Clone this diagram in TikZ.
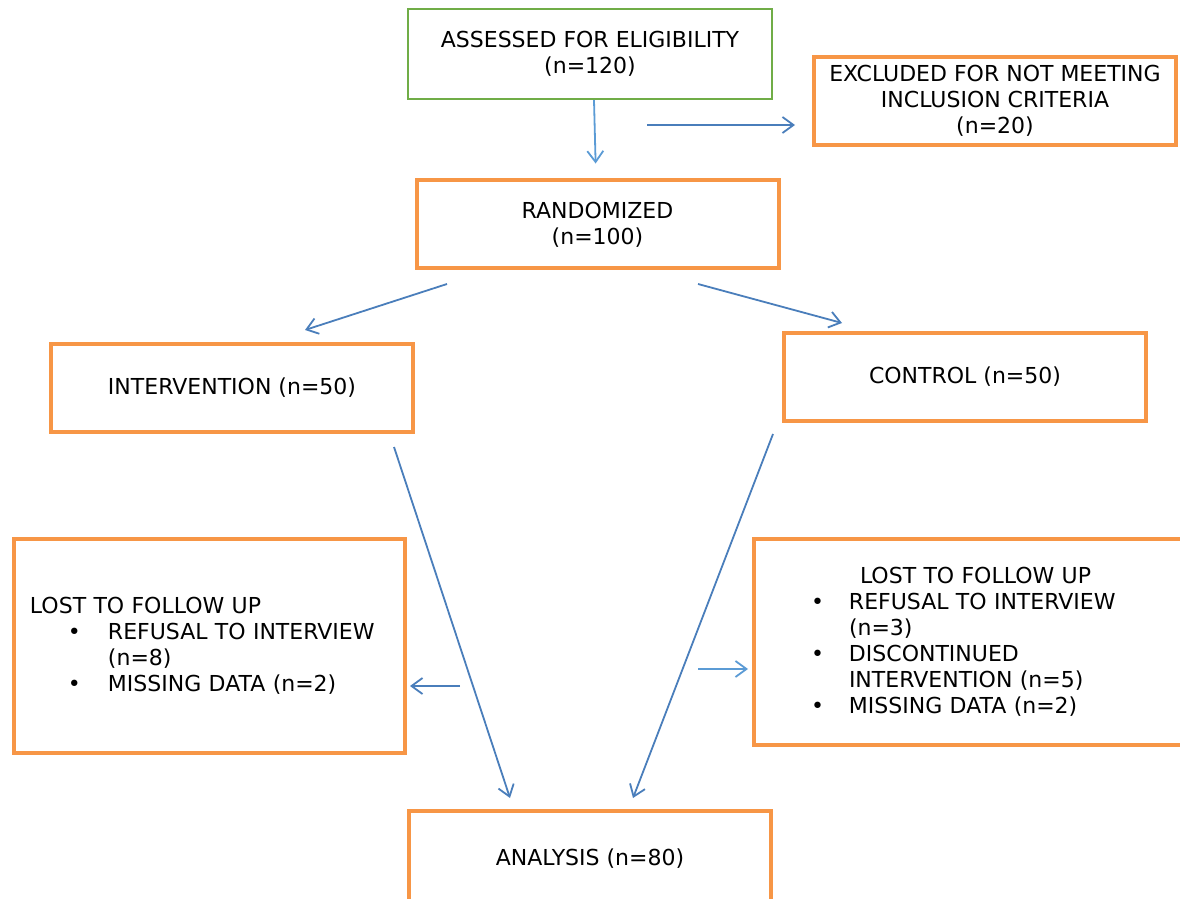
\documentclass[tikz,border=0pt]{standalone}
\usepackage{fontspec}
\setmainfont{DejaVu Sans}
\usetikzlibrary{arrows.meta}
\definecolor{boxorange}{HTML}{F79646}
\definecolor{boxgreen}{HTML}{70AD47}
\definecolor{arrowblue}{HTML}{4A7EBB}
\definecolor{lightblue}{HTML}{5B9BD5}
\tikzset{
  box/.style={draw=boxorange, line width=2pt, minimum width=181pt, minimum height=44pt, inner sep=0pt, align=center},
  greenbox/.style={box, draw=boxgreen, line width=1pt, minimum width=182pt, minimum height=45pt},
  lostbox/.style={draw=boxorange, line width=2pt, inner xsep=8pt, inner ysep=0pt, align=left},
  arr/.style={draw=arrowblue, line width=0.9pt, -{Straight Barb[length=5.5pt,width=8pt]}},
  lightarr/.style={arr, draw=lightblue},
}
\begin{document}
\begin{tikzpicture}[x=0.5pt, y=-0.5pt, font=\fontsize{11}{13}\selectfont]
      \useasboundingbox (0,0) rectangle (1180,899);
      \draw
        (590,54) node[greenbox] (assess) {ASSESSED FOR ELIGIBILITY\\(n=120)}
        (995,101) node[box] (excluded) {EXCLUDED FOR NOT MEETING\\INCLUSION CRITERIA\\(n=20)}
        (597.5,224.5) node[box] (randomized) {RANDOMIZED\\(n=100)}
        (232,388) node[box] (intervention) {INTERVENTION (n=50)}
        (965,377) node[box] (control) {CONTROL (n=50)}
        (209.5,646) node[lostbox, text width=179.5pt, minimum height=107pt] (lostint)
          {LOST TO FOLLOW UP\\
           \hspace*{19pt}\makebox[20pt][l]{\textbullet}REFUSAL TO INTERVIEW\\
           \hspace*{39pt}(n=8)\\
           \hspace*{19pt}\makebox[20pt][l]{\textbullet}MISSING DATA (n=2)}
        (972,642) node[lostbox, text width=202pt, minimum height=103pt] (lostcon)
          {\hspace*{45pt}LOST TO FOLLOW UP\\
           \hspace*{20.5pt}\makebox[19pt][l]{\textbullet}REFUSAL TO INTERVIEW\\
           \hspace*{39.5pt}(n=3)\\
           \hspace*{20.5pt}\makebox[19pt][l]{\textbullet}DISCONTINUED\\
           \hspace*{39.5pt}INTERVENTION (n=5)\\
           \hspace*{20.5pt}\makebox[19pt][l]{\textbullet}MISSING DATA (n=2)}
        (590,859) node[box, minimum height=48pt] (analysis) {ANALYSIS (n=80)};
      \draw
        (647,125) coordinate (excl-from)
        (447,284) coordinate (rand-left)
        (305,330) coordinate (int-in)
        (698,284) coordinate (rand-right)
        (842,323) coordinate (con-in)
        (394,447) coordinate (int-out)
        (510,798) coordinate (an-left)
        (773,434) coordinate (con-out)
        (633,798) coordinate (an-right)
        (460,686) coordinate (lostint-from)
        (698,669) coordinate (lostcon-from);
      \begin{scope}[arr]
        \draw[lightarr, shorten >=7.5pt] ([xshift=2pt]assess.south) to ([xshift=3pt]assess.south |- randomized.north);
        \draw[shorten >=8.5pt] (excl-from) to (excl-from -| excluded.west);
        \draw (rand-left) to (int-in);
        \draw (rand-right) to (con-in);
        \draw (int-out) to (an-left);
        \draw (con-out) to (an-right);
        \draw[shorten >=1.5pt] (lostint-from) to (lostint-from -| lostint.east);
        \draw[lightarr, shorten >=2pt] (lostcon-from) to (lostcon-from -| lostcon.west);
      \end{scope}
    \end{tikzpicture}
\end{document}
